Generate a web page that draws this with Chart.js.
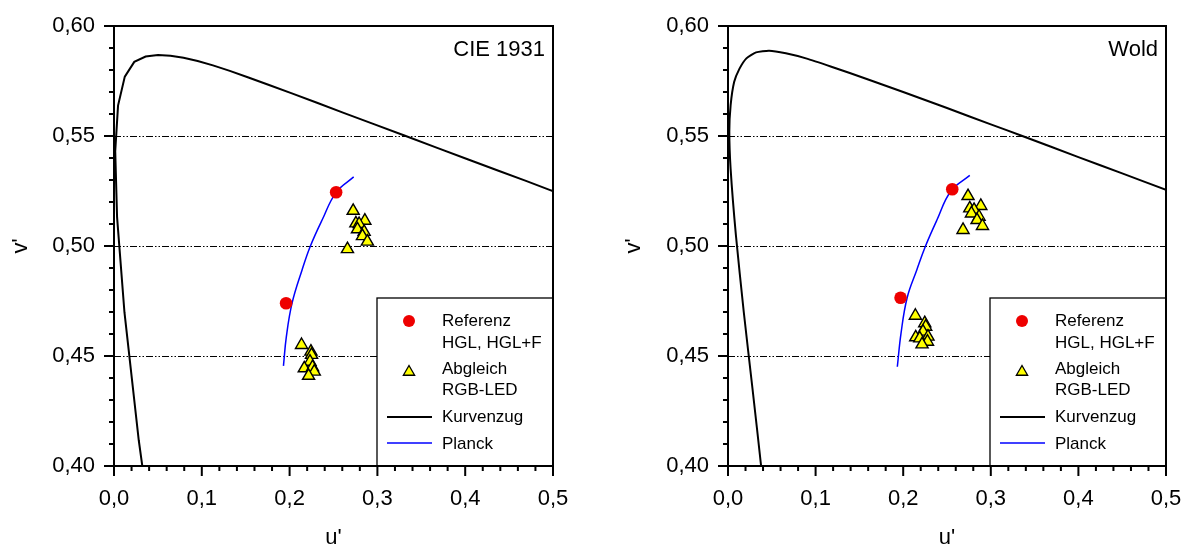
<!DOCTYPE html>
<html><head><meta charset="utf-8">
<script src="https://cdn.jsdelivr.net/npm/chart.js@4.4.1/dist/chart.umd.min.js"></script>
<style>
html,body{margin:0;padding:0;background:#fff;}
#wrap{position:relative;width:1189px;height:544px;overflow:hidden;}
.pane{position:absolute;top:0;height:544px;}
</style></head><body>
<div id="wrap">
<div class="pane" style="left:0;width:594px"><canvas id="c1"></canvas></div>
<div class="pane" style="left:594px;width:595px"><canvas id="c2"></canvas></div>
</div>
<script>
// ---------- data ----------
const panelLabels = ['CIE 1931', 'Wold'];
const legendLabels = [['Referenz', 'HGL, HGL+F'], ['Abgleich', 'RGB-LED'], ['Kurvenzug'], ['Planck']];
const xTickLabels = ['0,0', '0,1', '0,2', '0,3', '0,4', '0,5'];
const yTickLabels = ['0,40', '0,45', '0,50', '0,55', '0,60'];
const gridLevels = [0.45, 0.50, 0.55];

// CIE 1931 panel
const refU1 = [0.196, 0.253];
const refV1 = [0.474, 0.5244];
const abgU1 = [0.2724, 0.2857, 0.2755, 0.2792, 0.2773, 0.2849, 0.2830, 0.2886, 0.2659,
               0.2136, 0.2243, 0.2250, 0.2232, 0.2167, 0.2261, 0.2281, 0.2216];
const abgV1 = [0.5160, 0.5115, 0.5103, 0.5100, 0.5076, 0.5064, 0.5045, 0.5020, 0.4986,
               0.4550, 0.4520, 0.4505, 0.4474, 0.4444, 0.4449, 0.4429, 0.4410];
const planckU1 = [0.193, 0.1963, 0.2028, 0.2142, 0.2237, 0.237, 0.253, 0.273];
const planckV1 = [0.4455, 0.4588, 0.474, 0.4891, 0.500, 0.5118, 0.5244, 0.5314];
const locusU1 = [0.0521, 0.0282, 0.0119, 0.0035, 0.0014, 0.0046, 0.0123, 0.0231, 0.0360, 0.0501, 0.0643,
                 0.0792, 0.0953, 0.1127, 0.1319, 0.1531, 0.1766, 0.2026, 0.2312, 0.2623, 0.2960,
                 0.3315, 0.3681, 0.4035, 0.4379, 0.4692, 0.4968, 0.5203];
const locusV1 = [0.3427, 0.4117, 0.4699, 0.5131, 0.5431, 0.5638, 0.5770, 0.5837, 0.5861, 0.5868, 0.5865,
                 0.5856, 0.5841, 0.5821, 0.5796, 0.5766, 0.5732, 0.5694, 0.5651, 0.5604, 0.5554,
                 0.5501, 0.5446, 0.5393, 0.5342, 0.5296, 0.5254, 0.5219];

// Wold panel
const refU2 = [0.197, 0.256];
const refV2 = [0.4765, 0.5258];
const abgU2 = [0.2740, 0.2886, 0.2760, 0.2809, 0.2779, 0.2866, 0.2843, 0.2905, 0.2683,
               0.2139, 0.2246, 0.2257, 0.2226, 0.2143, 0.2283, 0.2189, 0.2277, 0.2215];
const abgV2 = [0.5227, 0.5182, 0.5171, 0.5164, 0.5148, 0.5133, 0.5118, 0.5091, 0.5073,
               0.4683, 0.4649, 0.4633, 0.4611, 0.4585, 0.4588, 0.4580, 0.4565, 0.4553];
const planckU2 = [0.1933, 0.1975, 0.2045, 0.2155, 0.2255, 0.2385, 0.2545, 0.276];
const planckV2 = [0.4451, 0.4603, 0.4765, 0.4891, 0.500, 0.5118, 0.5250, 0.5321];
const locusU2 = [0.045, 0.0378, 0.028, 0.018, 0.009, 0.003, 0.0015, 0.003, 0.007, 0.013, 0.021, 0.032,
                 0.047, 0.066, 0.089, 0.118, 0.160, 0.200, 0.250, 0.300, 0.336, 0.400, 0.450, 0.500, 0.530];
const locusV2 = [0.370, 0.400, 0.435, 0.470, 0.505, 0.535, 0.552, 0.564, 0.5745, 0.5805, 0.5853, 0.5880,
                 0.5888, 0.5876, 0.5853, 0.5815, 0.5757, 0.5700, 0.5627, 0.5553, 0.5500, 0.5404, 0.5330, 0.5255, 0.5210];

// ---------- helpers ----------
const FONT = "'Liberation Sans', Arial, sans-serif";
const zip = (u, v) => u.map((x, i) => ({x: x, y: v[i]}));
const xTicks = []; for (let i = 0; i <= 25; i++) xTicks.push(+(i * 0.02).toFixed(2));
const yTicks = []; for (let i = 0; i <= 20; i++) yTicks.push(+(0.4 + i * 0.01).toFixed(2));
const isMajorX = v => Math.abs(v * 10 - Math.round(v * 10)) < 1e-6;
const isMajorY = v => Math.abs(v * 20 - Math.round(v * 20)) < 1e-6;

function tri(ctx, x, y, r) {
  ctx.beginPath();
  for (let k = 0; k < 3; k++) {
    const a = k * 2 * Math.PI / 3;
    const px = x + Math.sin(a) * r, py = y - Math.cos(a) * r;
    if (k === 0) ctx.moveTo(px, py); else ctx.lineTo(px, py);
  }
  ctx.closePath();
}

const decor = {
  id: 'decor',
  beforeDatasetsDraw(chart) {
    const {ctx, chartArea: a, scales: {y}} = chart;
    ctx.save();
    ctx.strokeStyle = '#000'; ctx.lineWidth = 1;
    ctx.setLineDash([7, 2, 1.5, 2, 1.5, 2]);
    gridLevels.forEach(v => {
      const py = Math.round(y.getPixelForValue(v)) + 0.5;
      ctx.beginPath(); ctx.moveTo(a.left, py); ctx.lineTo(a.right, py); ctx.stroke();
    });
    ctx.restore();
  },
  afterDatasetsDraw(chart, args, opts) {
    const {ctx, chartArea: a} = chart;
    ctx.save();
    // legend box
    const bw = 176, bx = a.right - bw, by = a.top + 272;
    ctx.fillStyle = '#fff';
    ctx.fillRect(bx, by, bw, a.bottom - by);
    ctx.strokeStyle = '#000'; ctx.lineWidth = 1.3;
    ctx.strokeRect(bx, by, bw, a.bottom - by);
    const sx = bx + 32, tx = bx + 65;
    ctx.fillStyle = '#ee0000';
    ctx.beginPath(); ctx.arc(sx, a.top + 295, 6, 0, Math.PI * 2); ctx.fill();
    ctx.fillStyle = '#ffff00'; ctx.strokeStyle = '#000'; ctx.lineWidth = 1.3;
    tri(ctx, sx, a.top + 346, 6.5); ctx.fill(); ctx.stroke();
    ctx.strokeStyle = '#000'; ctx.lineWidth = 2;
    ctx.beginPath(); ctx.moveTo(bx + 10, a.top + 391); ctx.lineTo(bx + 55, a.top + 391); ctx.stroke();
    ctx.strokeStyle = '#0000ff'; ctx.lineWidth = 1.5;
    ctx.beginPath(); ctx.moveTo(bx + 10, a.top + 417); ctx.lineTo(bx + 55, a.top + 417); ctx.stroke();
    ctx.fillStyle = '#000'; ctx.font = '17px ' + FONT;
    ctx.textAlign = 'left'; ctx.textBaseline = 'middle';
    ctx.fillText(legendLabels[0][0], tx, a.top + 295);
    ctx.fillText(legendLabels[0][1], tx, a.top + 317);
    ctx.fillText(legendLabels[1][0], tx, a.top + 343);
    ctx.fillText(legendLabels[1][1], tx, a.top + 364);
    ctx.fillText(legendLabels[2][0], tx, a.top + 391);
    ctx.fillText(legendLabels[3][0], tx, a.top + 418);
    // panel label
    ctx.font = '22px ' + FONT; ctx.textAlign = 'right';
    ctx.fillText(opts.label, a.right - 8, a.top + 24);
    ctx.restore();
  },
  afterDraw(chart) {
    const {ctx, chartArea: a, scales: {x, y}} = chart;
    ctx.save();
    ctx.strokeStyle = '#000'; ctx.lineWidth = 2;
    ctx.strokeRect(a.left, a.top, a.right - a.left, a.bottom - a.top);
    ctx.beginPath();
    xTicks.forEach(v => {
      const px = x.getPixelForValue(v), len = isMajorX(v) ? 10 : 5;
      ctx.moveTo(px, a.bottom); ctx.lineTo(px, a.bottom + len);
    });
    yTicks.forEach(v => {
      const py = y.getPixelForValue(v), len = isMajorY(v) ? 10 : 5;
      ctx.moveTo(a.left, py); ctx.lineTo(a.left - len, py);
    });
    ctx.stroke();
    ctx.restore();
  }
};

function makeChart(id, d, yWidth, padRight, yTitlePad, label, locusTension) {
  return new Chart(document.getElementById(id), {
    type: 'scatter',
    data: {
      datasets: [
        {label: 'Referenz', data: zip(d.refU, d.refV), pointStyle: 'circle', pointRadius: 6.3,
         backgroundColor: '#ee0000', borderWidth: 0},
        {label: 'Abgleich', data: zip(d.abgU, d.abgV), pointStyle: 'triangle', pointRadius: 7,
         backgroundColor: '#ffff00', borderColor: '#000', borderWidth: 1.4},
        {label: 'Planck', data: zip(d.plU, d.plV), showLine: true, pointRadius: 0,
         borderColor: '#0000ff', borderWidth: 1.5, tension: 0.4},
        {label: 'Kurvenzug', data: zip(d.loU, d.loV), showLine: true, pointRadius: 0,
         borderColor: '#000', borderWidth: 2, tension: locusTension}
      ]
    },
    options: {
      responsive: true, maintainAspectRatio: false, animation: false, devicePixelRatio: 1,
      events: [],
      layout: {padding: {top: 26, right: padRight, left: 0, bottom: 0}},
      plugins: {legend: {display: false}, tooltip: {enabled: false}, decor: {label: label}},
      scales: {
        x: {
          type: 'linear', min: 0, max: 0.5,
          afterBuildTicks: s => { s.ticks = xTicks.map(v => ({value: v})); },
          afterFit: s => { s.height = 78; s.paddingLeft = 0; s.paddingRight = 0; },
          ticks: {autoSkip: false, maxRotation: 0, minRotation: 0, padding: 20, color: '#000',
                  font: {family: FONT, size: 22},
                  callback: v => isMajorX(v) ? xTickLabels[Math.round(v * 10)] : ''},
          grid: {display: true, drawOnChartArea: false, drawTicks: false, color: 'rgba(0,0,0,0)'},
          border: {display: false},
          title: {display: true, text: "u'", color: '#000', font: {family: FONT, size: 22},
                  padding: {top: 0, bottom: -7}}
        },
        y: {
          type: 'linear', min: 0.4, max: 0.6,
          afterBuildTicks: s => { s.ticks = yTicks.map(v => ({value: v})); },
          afterFit: s => { s.width = yWidth; s.paddingTop = 0; s.paddingBottom = 0; },
          ticks: {autoSkip: false, padding: 19, color: '#000', font: {family: FONT, size: 22},
                  callback: v => isMajorY(v) ? yTickLabels[Math.round((v - 0.4) * 20)] : ''},
          grid: {display: true, drawOnChartArea: false, drawTicks: false, color: 'rgba(0,0,0,0)'},
          border: {display: false},
          title: {display: true, text: "v'", color: '#000', font: {family: FONT, size: 22},
                  padding: {top: yTitlePad, bottom: 0}}
        }
      }
    },
    plugins: [decor]
  });
}

makeChart('c1', {refU: refU1, refV: refV1, abgU: abgU1, abgV: abgV1, plU: planckU1, plV: planckV1,
                 loU: locusU1, loV: locusV1}, 114, 41, 8, panelLabels[0], 0);
makeChart('c2', {refU: refU2, refV: refV2, abgU: abgU2, abgV: abgV2, plU: planckU2, plV: planckV2,
                 loU: locusU2, loV: locusV2}, 134, 23, 27, panelLabels[1], 0.2);
</script>
</body></html>
